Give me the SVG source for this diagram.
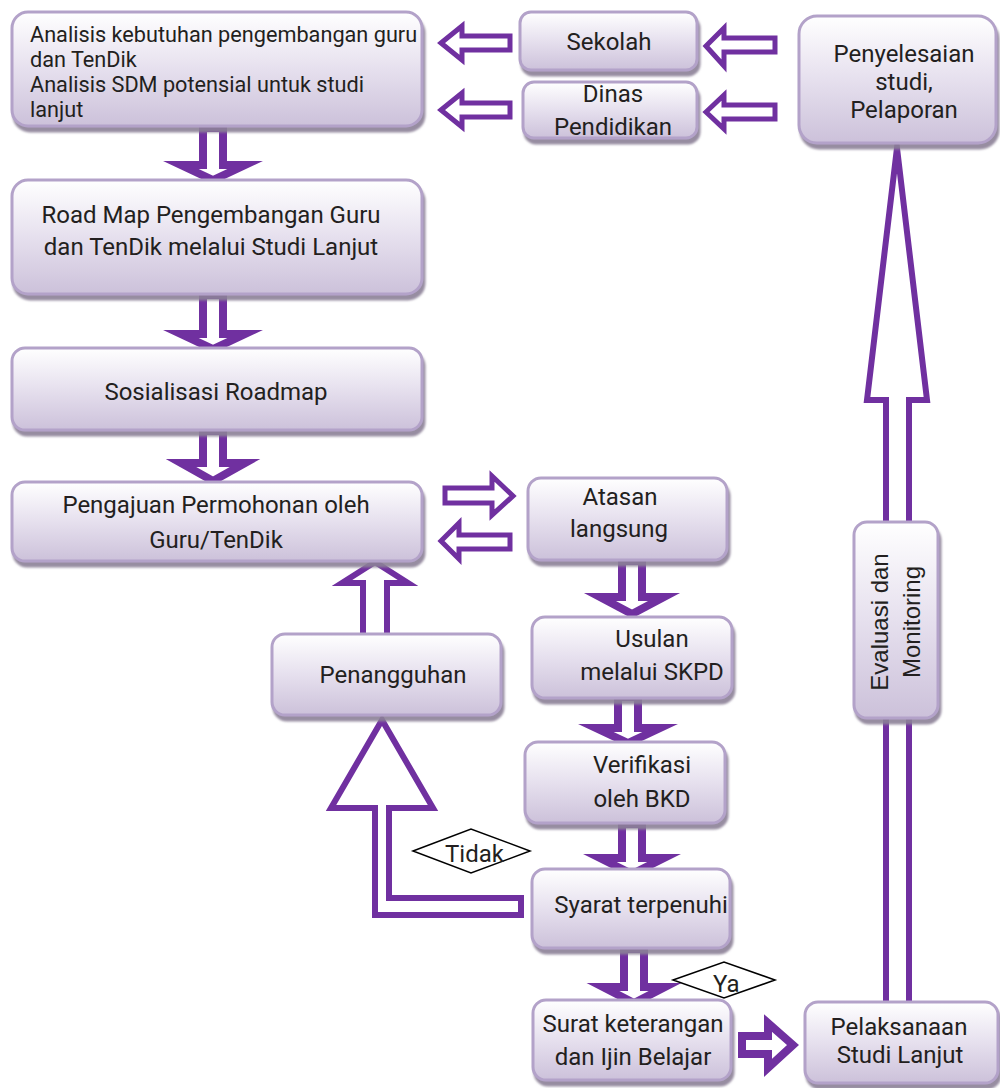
<svg xmlns="http://www.w3.org/2000/svg" width="1000" height="1088" viewBox="0 0 1000 1088">
<defs>
<linearGradient id="g" x1="0" y1="0" x2="0" y2="1">
<stop offset="0" stop-color="#FFFFFF"/>
<stop offset="0.5" stop-color="#E6E0EE"/>
<stop offset="1" stop-color="#CCC1DA"/>
</linearGradient>
<filter id="sh" x="-10%" y="-10%" width="130%" height="140%">
<feDropShadow dx="2" dy="5" stdDeviation="1.2" flood-color="#8C8097" flood-opacity="0.9"/>
</filter>
</defs>
<style>
.box{fill:url(#g);stroke:#B3A2C9;stroke-width:3;filter:url(#sh)}
.t{font-family:Roboto,"Liberation Sans",sans-serif;font-size:24px;fill:#231F20}
.ts{font-family:Roboto,"Liberation Sans",sans-serif;font-size:21.7px;fill:#231F20}
.tv{font-family:"Liberation Sans",Arial,sans-serif;font-size:24px;fill:#231F20}
.m{text-anchor:middle}
.ar{fill:#FFFFFF;stroke:#7030A0;stroke-width:6;stroke-linejoin:miter;stroke-miterlimit:10}
.ar5{fill:#FFFFFF;stroke:#7030A0;stroke-width:5;stroke-linejoin:miter;stroke-miterlimit:10}
.ar8{fill:#FFFFFF;stroke:#7030A0;stroke-width:8;stroke-linejoin:miter;stroke-miterlimit:10}
.dm{fill:#FFFFFF;stroke:#000000;stroke-width:1.5}
</style>
<rect width="1000" height="1088" fill="#FFFFFF"/>

<g id="connectors">
<polygon class="ar" points="897,148 927,400 909,400 909,1004 886,1004 886,400 867,400"/>
<polygon class="ar8" points="203,128 223,128 223,165 245,165 213,180 181,165 203,165"/>
<polygon class="ar8" points="203,295 223,295 223,334 245,334 213,349 181,334 203,334"/>
<polygon class="ar8" points="203,431 223,431 223,463 245,463 213,481 181,463 203,463"/>
<polygon class="ar5" points="441,43 462,26 462,36 510,36 510,50 462,50 462,60"/>
<polygon class="ar5" points="441,110 462,93 462,103 510,103 510,117 462,117 462,127"/>
<polygon class="ar5" points="706,46 724,28 724,38 775,38 775,52 724,52 724,66"/>
<polygon class="ar5" points="706,112 724,95 724,105 775,105 775,119 724,119 724,129"/>
<polygon class="ar5" points="445,488 492,488 492,476 513,496 492,515 492,503 445,503"/>
<polygon class="ar5" points="510,535 510,549 459,549 459,559 441,541 459,523 459,535"/>
<polygon class="ar" points="375,562 408,583 387,583 387,636 363,636 363,583 342,583"/>
<polygon class="ar8" points="622,561 642,561 642,597 664,597 632,614 600,597 622,597"/>
<polygon class="ar8" points="618,697 638,697 638,728 660,728 628,743 596,728 618,728"/>
<polygon class="ar8" points="622,824 642,824 642,858 664,858 632,874 600,858 622,858"/>
<polygon class="ar8" points="624,949 644,949 644,987 665,987 634,1003 603,987 624,987"/>
<polygon class="ar" points="521,898 389,898 389,808 433,808 382,720 331,808 375,808 375,915 521,915"/>
<polygon class="ar8" points="742,1036 768,1036 768,1023 793,1045 768,1068 768,1054 742,1054"/>
</g>

<g id="label-tidak">
<polygon class="dm" points="413,851 471,829 530,851 471,873"/>
<text class="t" x="445" y="862">Tidak</text>
</g>
<g id="label-ya">
<polygon class="dm" points="673,980 724,962 775,980 724,998"/>
<text class="t" x="713" y="992">Ya</text>
</g>

<g id="node-analisis">
<rect class="box" x="12" y="12" width="410" height="114" rx="16"/>
<text class="ts" x="30" y="42">Analisis kebutuhan pengembangan guru</text>
<text class="ts" x="30" y="67">dan TenDik</text>
<text class="ts" x="30" y="92">Analisis SDM potensial untuk studi</text>
<text class="ts" x="30" y="117">lanjut</text>
</g>

<g id="node-sekolah">
<rect class="box" x="520" y="12" width="177" height="58" rx="11"/>
<text class="t m" x="609" y="50">Sekolah</text>
</g>

<g id="node-dinas">
<rect class="box" x="523" y="82" width="174" height="56" rx="11"/>
<text class="t m" x="613" y="102">Dinas</text>
<text class="t m" x="613" y="135">Pendidikan</text>
</g>

<g id="node-penyelesaian">
<rect class="box" x="799" y="16" width="197" height="127" rx="18"/>
<text class="t m" x="904" y="62">Penyelesaian</text>
<text class="t m" x="904" y="90">studi,</text>
<text class="t m" x="904" y="118">Pelaporan</text>
</g>

<g id="node-roadmap">
<rect class="box" x="12" y="180" width="410" height="114" rx="16"/>
<text class="t m" x="211" y="223">Road Map Pengembangan Guru</text>
<text class="t m" x="211" y="255">dan TenDik melalui Studi Lanjut</text>
</g>

<g id="node-sosialisasi">
<rect class="box" x="12" y="348" width="410" height="82" rx="13"/>
<text class="t m" x="216" y="400">Sosialisasi Roadmap</text>
</g>

<g id="node-pengajuan">
<rect class="box" x="12" y="482" width="410" height="79" rx="13"/>
<text class="t m" x="216" y="513">Pengajuan Permohonan oleh</text>
<text class="t m" x="216" y="548">Guru/TenDik</text>
</g>

<g id="node-atasan">
<rect class="box" x="528" y="478" width="199" height="82" rx="13"/>
<text class="t m" x="620" y="505">Atasan</text>
<text class="t m" x="619" y="537">langsung</text>
</g>

<g id="node-penangguhan">
<rect class="box" x="272" y="634" width="229" height="81" rx="13"/>
<text class="t m" x="393" y="683">Penangguhan</text>
</g>

<g id="node-usulan">
<rect class="box" x="532" y="617" width="200" height="81" rx="13"/>
<text class="t m" x="652" y="647">Usulan</text>
<text class="t m" x="652" y="680">melalui SKPD</text>
</g>

<g id="node-verifikasi">
<rect class="box" x="525" y="742" width="200" height="81" rx="13"/>
<text class="t m" x="642" y="773">Verifikasi</text>
<text class="t m" x="642" y="807">oleh BKD</text>
</g>

<g id="node-syarat">
<rect class="box" x="532" y="869" width="198" height="79" rx="13"/>
<text class="t m" x="641" y="913">Syarat terpenuhi</text>
</g>

<g id="node-surat">
<rect class="box" x="533" y="1000" width="198" height="80" rx="13"/>
<text class="t m" x="633" y="1032">Surat keterangan</text>
<text class="t m" x="633" y="1065">dan Ijin Belajar</text>
</g>

<g id="node-pelaksanaan">
<rect class="box" x="805" y="1002" width="193" height="81" rx="13"/>
<text class="t m" x="899" y="1035">Pelaksanaan</text>
<text class="t m" x="900" y="1063">Studi Lanjut</text>
</g>

<g id="node-evaluasi">
<rect class="box" x="854" y="522" width="84" height="196" rx="13"/>
<text class="tv m" x="888" y="622" transform="rotate(-90 888 622)">Evaluasi dan</text>
<text class="tv m" x="920" y="622" transform="rotate(-90 920 622)">Monitoring</text>
</g>
</svg>
